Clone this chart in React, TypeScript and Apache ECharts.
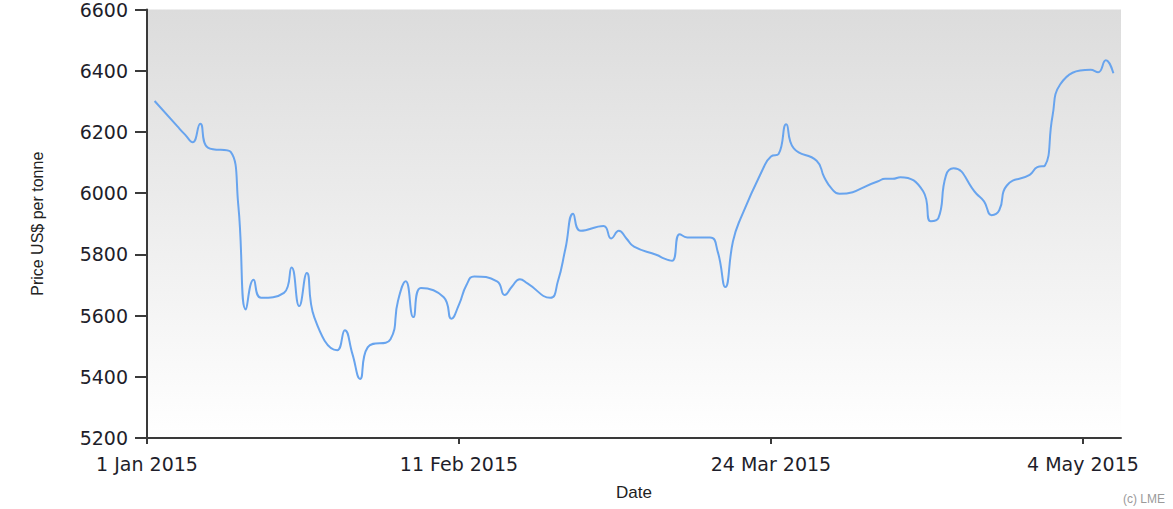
import React, { useEffect, useRef } from "react";
import * as echarts from "echarts";

const dates: string[] = [
  "2015-01-02", "2015-01-05", "2015-01-06", "2015-01-07", "2015-01-08", "2015-01-09",
  "2015-01-12", "2015-01-13", "2015-01-14", "2015-01-15", "2015-01-16",
  "2015-01-19", "2015-01-20", "2015-01-21", "2015-01-22", "2015-01-23",
  "2015-01-26", "2015-01-27", "2015-01-28", "2015-01-29", "2015-01-30",
  "2015-02-02", "2015-02-03", "2015-02-04", "2015-02-05", "2015-02-06",
  "2015-02-09", "2015-02-10", "2015-02-11", "2015-02-12", "2015-02-13",
  "2015-02-16", "2015-02-17", "2015-02-18", "2015-02-19", "2015-02-20",
  "2015-02-23", "2015-02-24", "2015-02-25", "2015-02-26", "2015-02-27",
  "2015-03-02", "2015-03-03", "2015-03-04", "2015-03-05", "2015-03-06",
  "2015-03-09", "2015-03-10", "2015-03-11", "2015-03-12", "2015-03-13",
  "2015-03-16", "2015-03-17", "2015-03-18", "2015-03-19", "2015-03-20",
  "2015-03-23", "2015-03-24", "2015-03-25", "2015-03-26", "2015-03-27",
  "2015-03-30", "2015-03-31", "2015-04-01", "2015-04-02",
  "2015-04-07", "2015-04-08", "2015-04-09", "2015-04-10",
  "2015-04-13", "2015-04-14", "2015-04-15", "2015-04-16", "2015-04-17",
  "2015-04-20", "2015-04-21", "2015-04-22", "2015-04-23", "2015-04-24",
  "2015-04-27", "2015-04-28", "2015-04-29", "2015-04-30", "2015-05-01",
  "2015-05-05", "2015-05-06", "2015-05-07", "2015-05-08",
];

const prices: number[] = [
  6301, 6218, 6191, 6166, 6227, 6149,
  6135, 5960, 5620, 5717, 5658,
  5674, 5757, 5631, 5739, 5593,
  5487, 5552, 5474, 5393, 5496,
  5523, 5650, 5712, 5595, 5690,
  5660, 5590, 5636, 5701, 5728,
  5712, 5667, 5696, 5719, 5705,
  5658, 5712, 5820, 5933, 5877,
  5893, 5852, 5877, 5852, 5825,
  5798, 5786, 5779, 5866, 5855,
  5855, 5809, 5693, 5842, 5917,
  6082, 6120, 6128, 6225, 6146,
  6106, 6052, 6014, 5998,
  6038, 6047, 6047, 6052,
  6006, 5908, 5918, 6058, 6081,
  5998, 5973, 5928, 5944, 6025,
  6060, 6085, 6090, 6252, 6355,
  6403, 6395, 6434, 6392,
];

const tickLabels: string[] = ["1 Jan 2015", "11 Feb 2015", "24 Mar 2015", "4 May 2015"];
const startDate = "2015-01-01";
const endDate = "2015-05-09";
const yMin = 5200;
const yMax = 6600;
const yStep = 200;
const tickEveryDays = 41;

const DAY = 86400000;
const dayOf = (s: string) => Math.round((Date.parse(s + "T00:00:00Z") - Date.parse(startDate + "T00:00:00Z")) / DAY);

export default function App() {
  const ref = useRef<HTMLDivElement>(null);
  useEffect(() => {
    if (!ref.current) return;
    const chart = echarts.init(ref.current, undefined, { renderer: "svg" });
    const seriesData = dates.map((d, i) => [dayOf(d), prices[i]]);
    const axisLine = { show: true, lineStyle: { color: "#3a3a3a", width: 2 } };
    chart.setOption({
      animation: false,
      backgroundColor: "#ffffff",
      grid: {
        left: 147,
        right: 52,
        top: 5,
        bottom: 71,
        show: true,
        borderWidth: 0,
        backgroundColor: {
          type: "linear",
          x: 0, y: 0, x2: 0, y2: 1,
          colorStops: [
            { offset: 0, color: "#dcdcdc" },
            { offset: 1, color: "#ffffff" },
          ],
        },
      },
      xAxis: {
        type: "value",
        min: 0,
        max: dayOf(endDate),
        interval: tickEveryDays,
        name: "Date",
        nameLocation: "middle",
        nameGap: 46,
        nameTextStyle: { fontFamily: "Liberation Sans, Arial, sans-serif", fontSize: 17, color: "#222" },
        axisLine,
        axisTick: { show: true, length: 6, lineStyle: { color: "#3a3a3a", width: 2 } },
        splitLine: { show: false },
        axisLabel: {
          margin: 16,
          fontFamily: "DejaVu Sans, Verdana, sans-serif",
          fontSize: 19,
          color: "#1e1e2a",
          showMaxLabel: false,
          formatter: (v: number) => {
            const idx = Math.round(v / tickEveryDays);
            return v % tickEveryDays === 0 && idx < tickLabels.length ? tickLabels[idx] : "";
          },
        },
      },
      yAxis: {
        type: "value",
        min: yMin,
        max: yMax,
        interval: yStep,
        name: "Price US$ per tonne",
        nameLocation: "middle",
        nameRotate: 90,
        nameGap: 102,
        nameTextStyle: { fontFamily: "Liberation Sans, Arial, sans-serif", fontSize: 16, color: "#222" },
        axisLine,
        axisTick: { show: true, length: 12, lineStyle: { color: "#3a3a3a", width: 2 } },
        splitLine: { show: false },
        axisLabel: {
          margin: 19,
          fontFamily: "DejaVu Sans, Verdana, sans-serif",
          fontSize: 19,
          color: "#1e1e2a",
          formatter: (v: number) => String(v),
        },
      },
      series: [
        {
          type: "line",
          data: seriesData,
          smooth: 0.5,
          showSymbol: false,
          lineStyle: { color: "#68a4ee", width: 2 },
        },
      ],
      graphic: [
        {
          type: "text",
          right: 8,
          bottom: 4,
          style: { text: "(c) LME", fontFamily: "Liberation Sans, Arial, sans-serif", fontSize: 12, fill: "#9a9a9a" },
        },
      ],
    });
    return () => chart.dispose();
  }, []);
  return (
    <div
      ref={ref}
      style={{ position: "fixed", left: 0, top: 0, width: 1173, height: 509 }}
    />
  );
}
